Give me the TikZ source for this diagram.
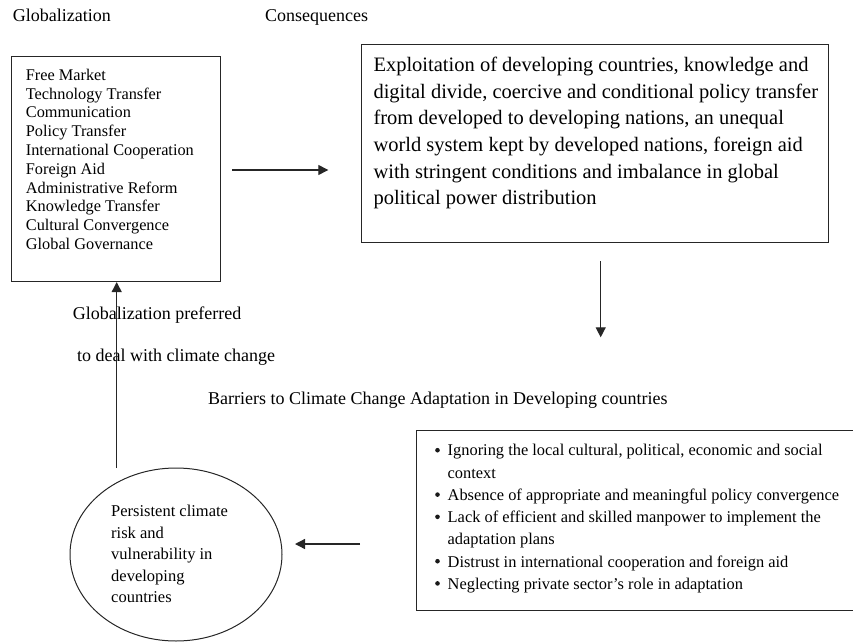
\documentclass[tikz,border=0pt]{standalone}
\usepackage{fontspec}
\setmainfont{Liberation Serif}
\usetikzlibrary{arrows.meta,shapes.geometric}
\begin{document}
\begin{tikzpicture}[x=1pt,y=-1pt,
  lbl/.style={inner sep=0pt, anchor=base west, font=\fontsize{18}{21}\selectfont},
  frame/.style={draw=black!85, line width=1.1pt, inner sep=0pt, anchor=north west},
  para/.style={inner sep=0pt, anchor=north west, align=left},
  listfont/.style={font=\fontsize{16.3}{18.78}\selectfont},
  consfont/.style={font=\fontsize{20.5}{26.67}\selectfont},
  barfont/.style={font=\fontsize{16.4}{22.2}\selectfont},
  elfont/.style={font=\fontsize{16.5}{21.4}\selectfont},
  dot/.style={circle, fill=black!90, inner sep=0pt, minimum size=4.6pt},
  arr/.style={draw=black!85, line width=1.3pt, -{Triangle[length=10pt,width=10pt]}},
]
\useasboundingbox (0,0) rectangle (853,642);

% headings
\node[lbl] (hglob) at (12.7,21.7) {Globalization};
\node[lbl] (hcons) at (265,21.7) {Consequences};

% globalization box
\node[frame, minimum width=209pt, minimum height=225pt] (glob) at (11,56) {};
\node[para, listfont] (globtext) at (25.7,68.9) {Free Market\\Technology Transfer\\Communication\\Policy Transfer\\International Cooperation\\Foreign Aid\\Administrative Reform\\Knowledge Transfer\\Cultural Convergence\\Global Governance};

% consequences box
\node[frame, minimum width=467pt, minimum height=198pt] (cons) at (361,44) {};
\node[para, consfont] (constext) at (373.3,56.7) {Exploitation of developing countries, knowledge and\\digital divide, coercive and conditional policy transfer\\from developed to developing nations, an unequal\\world system kept by developed nations, foreign aid\\with stringent conditions and imbalance in global\\political power distribution};

% barriers label
\node[lbl] (hbar) at (208,404) {Barriers to Climate Change Adaptation in Developing countries};

% barriers box
\node[frame, minimum width=436.5pt, minimum height=180pt] (bar) at (416,430) {};
\node[dot] (d1) at (437.5,450.2) {};
\node[dot] (d2) at (437.5,494.6) {};
\node[dot] (d3) at (437.5,516.8) {};
\node[dot] (d4) at (437.5,561.2) {};
\node[dot] (d5) at (437.5,583.4) {};
\node[para, barfont] (b1) at (447.5,444.3) {Ignoring the local cultural, political, economic and social\\context};
\node[para, barfont] (b2) at (447.5,488.7) {Absence of appropriate and meaningful policy convergence};
\node[para, barfont] (b3) at (447.5,510.9) {Lack of efficient and skilled manpower to implement the\\adaptation plans};
\node[para, barfont] (b4) at (447.5,555.3) {Distrust in international cooperation and foreign aid};
\node[para, barfont] (b5) at (447.5,577.5) {Neglecting private sector’s role in adaptation};

% ellipse
\node[ellipse, draw=black!85, line width=1pt, minimum width=212pt, minimum height=173pt, inner sep=0pt] (risk) at (176,554.5) {};
\node[para, elfont] (risktext) at (111,505.2) {Persistent climate\\risk and\\vulnerability in\\developing\\countries};

% labels on the feedback arrow
\node[lbl] (pref1) at (72.7,319.3) {Globalization preferred};
\node[lbl] (pref2) at (77,361.7) {to deal with climate change};

% connectors
\coordinate (a1s) at (232.3,170);
\coordinate (a1e) at (328.3,170);
\coordinate (a2s) at (600.7,261);
\coordinate (a2e) at (600.7,337.3);
\coordinate (a3s) at (360,544);
\coordinate (a3e) at (295,544);
\coordinate (a4s) at (116.7,468);
\draw[arr] (a1s) -- (a1e);
\draw[arr] (a2s) -- (a2e);
\draw[arr] (a3s) -- (a3e);
\draw[arr] (a4s) -- (a4s |- glob.south);
\end{tikzpicture}
\end{document}
